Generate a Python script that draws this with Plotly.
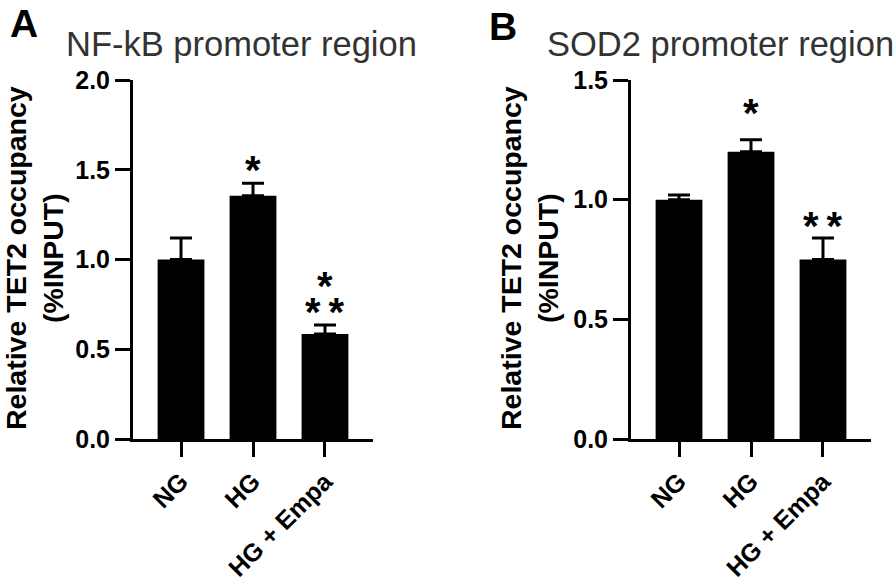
import plotly.graph_objects as go

categories = ["NG", "HG", "HG + Empa"]

nfkb_values = [1.00, 1.355, 0.585]
nfkb_errors = [0.12, 0.07, 0.05]
nfkb_ticks = [0.0, 0.5, 1.0, 1.5, 2.0]
# significance marks: (category, label, height of mark centre in data units)
nfkb_stars = [("HG", "*", 1.538), ("HG + Empa", "*", 0.89), ("HG + Empa", "**", 0.746)]

sod2_values = [1.00, 1.20, 0.75]
sod2_errors = [0.02, 0.05, 0.09]
sod2_ticks = [0.0, 0.5, 1.0, 1.5]
sod2_stars = [("HG", "*", 1.393), ("HG + Empa", "**", 0.92)]

W, H = 896, 582
FONT = "Liberation Sans, Arial, sans-serif"

def px_x(p):
    return p / W

def px_y(p):
    return 1 - p / H

fig = go.Figure()

fig.add_trace(go.Bar(
    x=categories, y=nfkb_values, width=0.65,
    marker=dict(color="black", line=dict(width=0)),
    error_y=dict(type="data", symmetric=False, array=nfkb_errors,
                 arrayminus=[0, 0, 0], color="black", thickness=3, width=11),
    xaxis="x", yaxis="y", showlegend=False, hoverinfo="skip",
))
fig.add_trace(go.Bar(
    x=categories, y=sod2_values, width=0.65,
    marker=dict(color="black", line=dict(width=0)),
    error_y=dict(type="data", symmetric=False, array=sod2_errors,
                 arrayminus=[0, 0, 0], color="black", thickness=3, width=11),
    xaxis="x2", yaxis="y2", showlegend=False, hoverinfo="skip",
))

ydom = [px_y(439), px_y(80)]
axis_common = dict(
    showline=True, linecolor="black", linewidth=3,
    ticks="outside", ticklen=15, tickwidth=3, tickcolor="black",
    showgrid=False, zeroline=False, automargin=False,
    tickfont=dict(family=FONT, size=25, color="black", weight="bold"),
)

fig.update_layout(
    width=W, height=H,
    margin=dict(l=0, r=0, t=0, b=0, autoexpand=False),
    paper_bgcolor="white", plot_bgcolor="white",
    bargap=0.35,
    xaxis=dict(domain=[px_x(133), px_x(373)], range=[-0.667, 2.667],
               anchor="y", tickangle=-45, **axis_common),
    yaxis=dict(domain=ydom, range=[0, 2.0], tickvals=nfkb_ticks,
               tickformat=".1f", anchor="x", **axis_common),
    xaxis2=dict(domain=[px_x(631), px_x(871)], range=[-0.667, 2.667],
                anchor="y2", tickangle=-45, **axis_common),
    yaxis2=dict(domain=ydom, range=[0, 1.5], tickvals=sod2_ticks,
                tickformat=".1f", anchor="x2", **axis_common),
)

ann = []
# panel letters
ann.append(dict(text="<b>A</b>", x=px_x(24), y=1, xref="paper", yref="paper",
                showarrow=False, xanchor="center", yanchor="top",
                font=dict(family=FONT, size=39, color="black")))
ann.append(dict(text="<b>B</b>", x=px_x(503), y=px_y(3), xref="paper", yref="paper",
                showarrow=False, xanchor="center", yanchor="top",
                font=dict(family=FONT, size=39, color="black")))
# panel titles
ann.append(dict(text="NF-kB promoter region", x=px_x(64), y=px_y(44), xref="paper", yref="paper",
                showarrow=False, xanchor="left", yanchor="middle",
                font=dict(family=FONT, size=34.5, color="#333333")))
ann.append(dict(text="SOD2 promoter region", x=px_x(545), y=px_y(44), xref="paper", yref="paper",
                showarrow=False, xanchor="left", yanchor="middle",
                font=dict(family=FONT, size=34.5, color="#333333")))
# y titles
for cx in (34, 529):
    ann.append(dict(text="<b>Relative TET2 occupancy<br>(%INPUT)</b>", x=px_x(cx), y=px_y(258),
                    xref="paper", yref="paper", showarrow=False, textangle=-90,
                    xanchor="center", yanchor="middle", borderpad=0,
                    font=dict(family=FONT, size=28.5, color="black")))
# significance stars
star_font = dict(family=FONT, size=40, color="black")
for xref, yref, stars in (("x", "y", nfkb_stars), ("x2", "y2", sod2_stars)):
    for cat, label, yc in stars:
        ann.append(dict(text="<b>" + label.replace("**", "*\u2009*") + "</b>",
                        x=cat, y=yc, xref=xref, yref=yref,
                        showarrow=False, xanchor="center", yanchor="bottom",
                        font=star_font, yshift=-31))

fig.update_layout(annotations=ann)
fig.write_html("out.html", config={"displayModeBar": False, "staticPlot": True},
               post_script="document.body.style.margin='0';document.body.style.overflow='hidden';")
